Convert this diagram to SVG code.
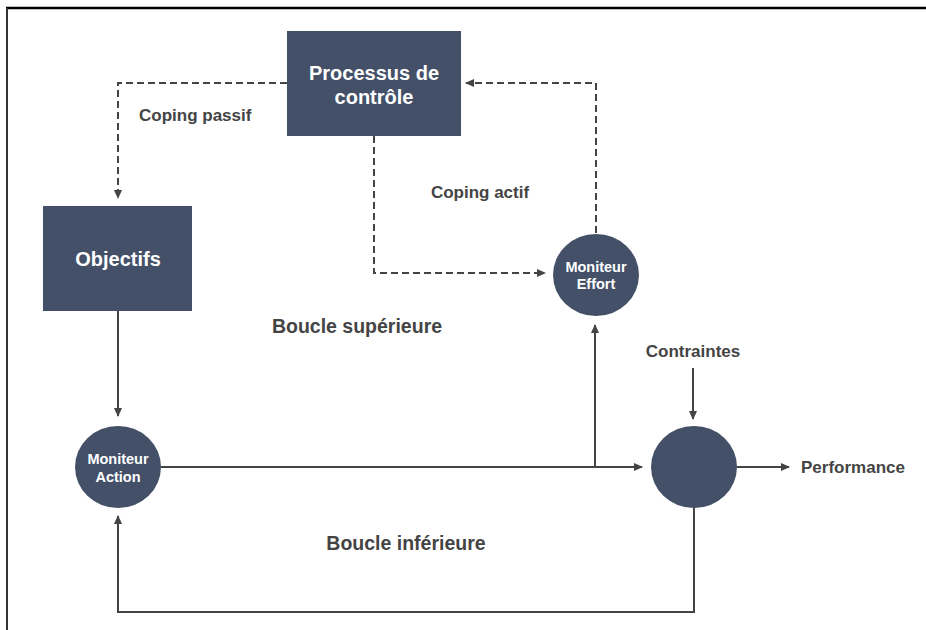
<svg xmlns="http://www.w3.org/2000/svg" width="926" height="630" viewBox="0 0 926 630">
  <style>
    .node { fill: #435068; }
    .ntext { fill: #ffffff; font-family: "Liberation Sans", Arial, sans-serif; font-weight: bold; text-anchor: middle; }
    .label { fill: #444444; font-family: "Liberation Sans", Arial, sans-serif; font-weight: bold; }
    .wire { fill: none; stroke: #444444; stroke-width: 2; }
    .dash { stroke-dasharray: 7 4; }
  </style>
  <defs>
    <marker id="arrow" markerWidth="10" markerHeight="10" refX="8" refY="5" orient="auto" markerUnits="userSpaceOnUse">
      <path d="M0,1 L9,5 L0,9 Z" fill="#444444"/>
    </marker>
  </defs>

  <rect width="926" height="630" fill="#ffffff"/>
  <!-- frame -->
  <line x1="6" y1="8" x2="926" y2="8" stroke="#000000" stroke-width="2.5"/>
  <line x1="7" y1="8" x2="7" y2="630" stroke="#333333" stroke-width="2"/>

  <!-- connectors -->
  <g id="connectors">
    <path class="wire dash" d="M287,83 H118 V198" marker-end="url(#arrow)"/>
    <path class="wire dash" d="M374,136 V273 H545" marker-end="url(#arrow)"/>
    <path class="wire dash" d="M596,233 V83 H466" marker-end="url(#arrow)"/>
    <path class="wire" d="M118,311 V416" marker-end="url(#arrow)"/>
    <path class="wire" d="M161,467 H642" marker-end="url(#arrow)"/>
    <path class="wire" d="M595,467 V325" marker-end="url(#arrow)"/>
    <path class="wire" d="M693,368 V419" marker-end="url(#arrow)"/>
    <path class="wire" d="M737,467 H789" marker-end="url(#arrow)"/>
    <path class="wire" d="M694,507 V612 H118 V516" marker-end="url(#arrow)"/>
  </g>

  <g id="processus">
    <rect class="node" x="287" y="31" width="174" height="105"/>
    <text class="ntext" x="374" y="80" font-size="20">Processus de</text>
    <text class="ntext" x="374" y="104" font-size="20">contrôle</text>
  </g>

  <g id="objectifs">
    <rect class="node" x="43" y="206" width="149" height="105"/>
    <text class="ntext" x="118" y="266" font-size="20">Objectifs</text>
  </g>

  <g id="moniteur-effort">
    <ellipse class="node" cx="596" cy="275" rx="43" ry="41"/>
    <text class="ntext" x="596" y="272" font-size="14.5">Moniteur</text>
    <text class="ntext" x="596" y="289" font-size="14.5">Effort</text>
  </g>

  <g id="moniteur-action">
    <ellipse class="node" cx="118" cy="467" rx="43" ry="41"/>
    <text class="ntext" x="118" y="464" font-size="14.5">Moniteur</text>
    <text class="ntext" x="118" y="482" font-size="14.5">Action</text>
  </g>

  <g id="comparateur">
    <ellipse class="node" cx="694" cy="467" rx="43" ry="41"/>
  </g>

  <g id="labels">
    <text class="label" x="139" y="121" font-size="17">Coping passif</text>
    <text class="label" x="480" y="198" font-size="17" text-anchor="middle">Coping actif</text>
    <text class="label" x="357" y="333" font-size="19.5" text-anchor="middle">Boucle supérieure</text>
    <text class="label" x="693" y="357" font-size="17" text-anchor="middle">Contraintes</text>
    <text class="label" x="801" y="473" font-size="17">Performance</text>
    <text class="label" x="406" y="550" font-size="19.5" text-anchor="middle">Boucle inférieure</text>
  </g>
</svg>
